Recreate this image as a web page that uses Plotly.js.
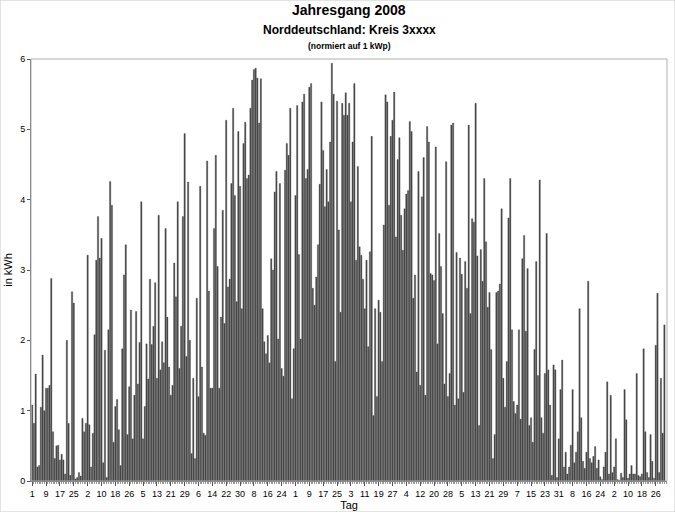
<!DOCTYPE html>
<html><head><meta charset="utf-8">
<script src="https://cdn.plot.ly/plotly-3.0.1.min.js"></script>
<style>html,body{margin:0;padding:0;background:#fff}</style>
</head><body><div id="chart" style="width:675px;height:512px"></div>
<script>
// Daily energy yield 2008 (kWh per kWp), day 1 = 1 Jan
const jan = [1.08,0.82,1.52,0.2,0.22,1.05,1.79,1.0,1.32,1.32,1.36,2.88,0.7,0.32,0.5,0.51,0.3,0.38,0.3,0.1,2.0,0.82,0.08,2.69,2.53,0.03,0.05,0.12,0.07,0.89,0.7];
const feb = [0.82,3.21,0.8,0.2,0.68,2.08,3.14,3.76,3.17,3.45,0.26,1.86,0.05,2.15,4.26,3.92,0.55,1.06,1.16,0.73,0.22,1.88,2.93,3.36,0.66,1.34,2.43,0.6,1.22];
const mar = [2.41,1.38,1.97,3.97,0.6,1.06,1.95,1.45,2.87,1.94,2.2,2.82,1.46,3.78,1.58,1.98,1.68,3.59,2.33,1.62,1.22,1.36,3.1,2.62,3.97,1.6,2.2,3.76,4.94,1.77,4.25];
const apr = [2.0,0.39,1.46,0.32,2.6,1.2,4.19,1.62,0.68,0.65,4.55,2.7,1.32,1.32,3.59,4.63,3.05,1.32,2.33,3.85,2.24,5.13,2.76,2.87,4.23,5.3,4.06,2.55,4.97,4.19];
const may = [2.45,4.8,5.1,4.3,4.35,5.3,5.7,5.85,5.87,5.73,5.09,5.72,2.45,1.98,1.81,2.07,1.68,3.16,3.0,4.11,4.4,2.02,4.23,1.6,1.49,4.42,4.8,4.63,5.3,1.17,1.88];
const jun = [4.06,5.34,3.22,2.02,5.39,5.5,4.3,4.43,5.6,5.65,2.74,2.5,2.9,3.36,4.22,5.39,4.7,3.9,4.43,3.97,4.82,5.94,5.5,1.7,5.4,3.57,2.4,5.37,5.2,5.52];
const jul = [5.2,5.37,3.97,4.82,5.65,3.14,4.47,3.33,3.21,2.87,2.45,3.14,1.91,3.26,4.9,0.93,2.45,1.2,2.57,2.4,1.7,3.64,5.49,5.39,3.92,4.9,5.13,5.53,3.47,4.57,4.88];
const aug = [3.78,3.28,3.87,4.08,4.13,5.11,4.97,2.6,2.93,1.55,4.4,1.36,4.04,4.6,1.22,5.04,4.82,2.95,2.93,2.85,4.75,1.95,3.52,3.05,2.38,1.38,4.54,1.2,1.53,5.06,5.09];
const sep = [1.08,3.25,1.17,3.17,2.94,1.26,3.12,2.74,5.06,2.38,3.73,3.68,5.37,3.2,0.79,3.29,2.84,4.3,3.4,2.47,2.68,1.87,0.32,0.66,2.68,2.7,2.8,3.87,1.46,1.05];
const oct = [1.7,3.74,4.3,2.15,1.13,0.96,1.08,2.15,0.88,3.16,3.49,2.13,3.02,0.79,0.9,0.55,1.87,3.12,1.5,4.28,0.9,0.68,1.53,3.52,1.58,1.08,0.08,1.65,1.58,0.05,0.6];
const nov = [1.3,1.72,0.2,0.41,0.1,0.2,0.51,1.3,0.26,0.41,0.7,2.45,0.9,0.28,0.18,0.41,2.84,0.32,0.26,0.35,0.49,0.18,0.3,0.06,0.02,0.2,0.41,1.41,0.1,1.22];
const dec = [0.12,0.2,0.6,0.02,0.01,0.11,0.05,1.3,0.87,0.04,0.1,0.22,0.1,0.1,1.53,0.08,0.06,0.1,1.88,0.7,0.12,0.05,0.66,0.28,0.04,1.93,2.67,0.12,1.46,0.68,2.22];
const tickLabels = ["1","9","17","25","2","10","18","26","5","13","21","29","6","14","22","30","8","16","24","1","9","17","25","3","11","19","27","4","12","20","28","5","13","21","29","7","15","23","31","8","16","24","2","10","18","26"];

const values = [].concat(jan,feb,mar,apr,may,jun,jul,aug,sep,oct,nov,dec);
const days = values.map((v,i)=>i+1);
const tickVals = tickLabels.map((t,k)=>1+8*k);

const font = 'Liberation Sans, Arial, sans-serif';
const trace = {type:'bar', x:days, y:values,
  marker:{color:'#4b4b4b', line:{color:'#3a3a3a', width:0.3}}, hoverinfo:'x+y'};
const layout = {
  width:675, height:512, paper_bgcolor:'#fff', plot_bgcolor:'#fff',
  margin:{l:31,r:8,t:59,b:31}, bargap:0.22, showlegend:false,
  font:{family:font, color:'#000', size:9},
  xaxis:{range:[0.3,367.5], tickvals:tickVals, ticktext:tickLabels, ticks:'outside', ticklen:4,
    tickcolor:'#555', tickfont:{size:9, family:font}, showgrid:false, zeroline:false,
    showline:true, linecolor:'#666', linewidth:1, mirror:false,
    minor:{dtick:1, tick0:1, ticks:'outside', ticklen:2, tickcolor:'#999', showgrid:false},
    title:{text:'Tag', font:{size:11, family:font}, standoff:1}},
  yaxis:{range:[0,6], dtick:1, ticks:'outside', ticklen:3, tickcolor:'#555',
    tickfont:{size:9, family:font}, showgrid:false, zeroline:false,
    showline:true, linecolor:'#666', linewidth:1,
    title:{text:'in kWh', font:{size:11, family:font}, standoff:5}},
  shapes:[
    {type:'rect', xref:'paper', yref:'paper', x0:0, x1:1, y0:0, y1:1, line:{color:'#b0b0b0', width:1}},
    {type:'rect', xref:'paper', yref:'paper', x0:-31/636, x1:1+8/636, y0:-31/422, y1:1+59/422, line:{color:'#c8c8c8', width:1}}
  ],
  annotations:[
    {text:'<b>Jahresgang 2008</b>', xref:'paper', yref:'paper', x:0.5, y:1+49/422, xanchor:'center', yanchor:'middle', showarrow:false, font:{size:14, family:font}},
    {text:'<b>Norddeutschland: Kreis 3xxxx</b>', xref:'paper', yref:'paper', x:0.5, y:1+29/422, xanchor:'center', yanchor:'middle', showarrow:false, font:{size:12, family:font}},
    {text:'<b>(normiert auf 1 kWp)</b>', xref:'paper', yref:'paper', x:0.5, y:1+13/422, xanchor:'center', yanchor:'middle', showarrow:false, font:{size:8.5, family:font}}
  ]
};
Plotly.newPlot('chart',[trace],layout,{displayModeBar:false,staticPlot:true});
</script></body></html>
